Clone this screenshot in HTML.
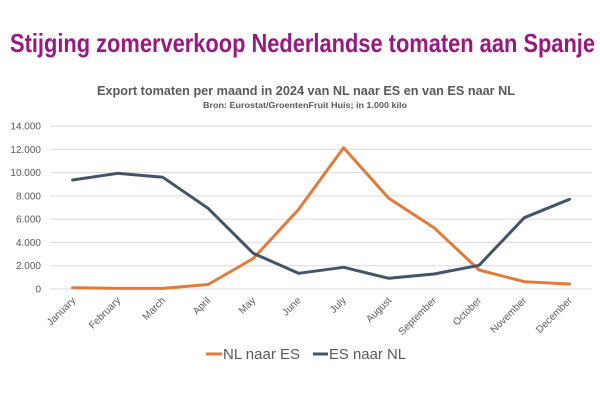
<!DOCTYPE html>
<html><head><meta charset="utf-8"><style>
html,body{margin:0;padding:0;background:#fff;}
svg{display:block;}
</style></head><body>
<svg width="600" height="400" viewBox="0 0 600 400" xmlns="http://www.w3.org/2000/svg" font-family="'Liberation Sans', sans-serif">
<rect width="600" height="400" fill="#fff"/>
<text x="10" y="52" font-size="26" font-weight="bold" fill="#97197F" textLength="585" lengthAdjust="spacingAndGlyphs">Stijging zomerverkoop Nederlandse tomaten aan Spanje</text>
<text x="97" y="95" font-size="12.5" font-weight="bold" fill="#595959" textLength="418" lengthAdjust="spacingAndGlyphs">Export tomaten per maand in 2024 van NL naar ES en van ES naar NL</text>
<text x="203" y="108" font-size="8" font-weight="bold" fill="#595959" textLength="204" lengthAdjust="spacingAndGlyphs">Bron: Eurostat/GroentenFruit Huis; in 1.000 kilo</text>
<g stroke="#D9D9D9" stroke-width="1">
<line x1="50" x2="592" y1="126" y2="126"/>
<line x1="50" x2="592" y1="149.3" y2="149.3"/>
<line x1="50" x2="592" y1="172.6" y2="172.6"/>
<line x1="50" x2="592" y1="195.9" y2="195.9"/>
<line x1="50" x2="592" y1="219.1" y2="219.1"/>
<line x1="50" x2="592" y1="242.4" y2="242.4"/>
<line x1="50" x2="592" y1="265.7" y2="265.7"/>
<line x1="50" x2="592" y1="289" y2="289"/>
</g>
<g font-size="10" fill="#595959" text-anchor="end">
<text x="41" y="129.5">14.000</text>
<text x="41" y="152.8">12.000</text>
<text x="41" y="176.1">10.000</text>
<text x="41" y="199.4">8.000</text>
<text x="41" y="222.6">6.000</text>
<text x="41" y="245.9">4.000</text>
<text x="41" y="269.2">2.000</text>
<text x="41" y="292.5">0</text>
</g>
<g font-size="10" fill="#595959" text-anchor="end">
<text transform="translate(76,301) rotate(-45)">January</text>
<text transform="translate(121,301) rotate(-45)">February</text>
<text transform="translate(166,301) rotate(-45)">March</text>
<text transform="translate(211,301) rotate(-45)">April</text>
<text transform="translate(256,301) rotate(-45)">May</text>
<text transform="translate(301.5,301) rotate(-45)">June</text>
<text transform="translate(346.5,301) rotate(-45)">July</text>
<text transform="translate(392,301) rotate(-45)">August</text>
<text transform="translate(437,301) rotate(-45)">September</text>
<text transform="translate(482,301) rotate(-45)">October</text>
<text transform="translate(527,301) rotate(-45)">November</text>
<text transform="translate(572.5,301) rotate(-45)">December</text>
</g>
<polyline fill="none" stroke="#E07B39" stroke-width="3" stroke-linejoin="round" stroke-linecap="round"
points="72.6,287.8 117.8,288.4 162.9,288.4 208.1,284.5 253.3,258.5 298.5,209.5 343.6,147.7 388.8,198.3 434,227.7 479.1,270 524.3,281.7 569.5,284"/>
<polyline fill="none" stroke="#44546A" stroke-width="3" stroke-linejoin="round" stroke-linecap="round"
points="72.6,180 117.8,173.3 162.9,177.3 208.1,208.3 253.3,253.3 298.5,273.3 343.6,267.3 388.8,278.3 434,274 479.1,265.3 524.3,217.7 569.5,199.3"/>
<line x1="206" x2="222" y1="354" y2="354" stroke="#E07B39" stroke-width="3"/>
<text x="223" y="359" font-size="15" fill="#595959" textLength="77" lengthAdjust="spacingAndGlyphs">NL naar ES</text>
<line x1="313" x2="328" y1="354" y2="354" stroke="#44546A" stroke-width="3"/>
<text x="329" y="359" font-size="15" fill="#595959" textLength="77" lengthAdjust="spacingAndGlyphs">ES naar NL</text>
</svg>
</body></html>
